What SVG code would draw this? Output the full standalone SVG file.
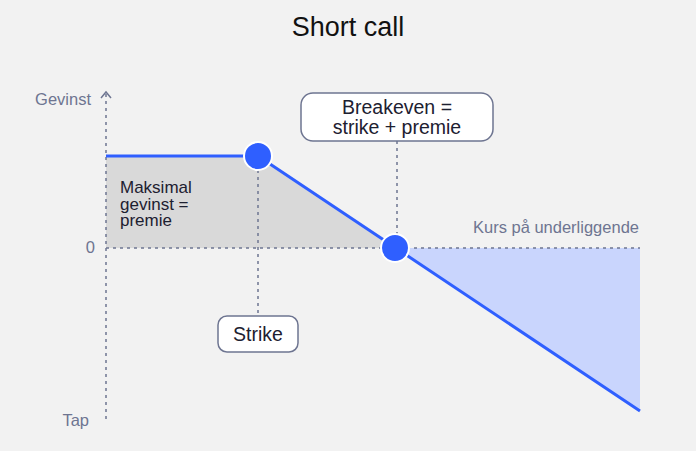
<svg xmlns="http://www.w3.org/2000/svg" width="696" height="451" viewBox="0 0 696 451">
<style>
text{font-family:"Liberation Sans","Inter",sans-serif}
.ax{fill:#6e7591;font-size:16.5px}
.lbl{fill:#1d2030;font-size:19.5px;text-anchor:middle}
.dash{stroke:#6e7591;stroke-width:1.5;stroke-dasharray:3 4;fill:none}
.box{fill:#fff;stroke:#6e7591;stroke-width:1.5}
.dot{fill:#2f5fff;stroke:#fff;stroke-width:2}
</style>
<rect width="696" height="451" fill="#f2f2f2"/>
<text x="348" y="36" font-size="27" fill="#111" text-anchor="middle">Short call</text>
<g id="areas">
<polygon points="106,156 258,156 395,248 106,248" fill="#d9d9d9"/>
<polygon points="395,248 640,248 640,411" fill="#c9d5fd"/>
</g>
<g id="connectors">
<line class="dash" x1="106" y1="94" x2="106" y2="420"/>
<polyline points="101,98 106,92 111,98" fill="none" stroke="#6e7591" stroke-width="1.5"/>
<line class="dash" x1="106" y1="248" x2="640" y2="248"/>
<line class="dash" x1="258" y1="170" x2="258" y2="316"/>
<line class="dash" x1="397" y1="141" x2="397" y2="236"/>
<polyline points="106,156 258,156 640,411" fill="none" stroke="#2f5fff" stroke-width="3"/>
</g>
<text class="ax" x="91" y="105" text-anchor="end">Gevinst</text>
<text class="ax" x="95" y="253" text-anchor="end">0</text>
<text class="ax" x="89" y="426" text-anchor="end">Tap</text>
<text class="ax" x="639" y="233" text-anchor="end" font-size="17.5">Kurs på underliggende</text>
<g id="maks"><text x="120" y="193" font-size="17" fill="#1d2030"><tspan x="120">Maksimal</tspan><tspan x="120" dy="16.5">gevinst =</tspan><tspan x="120" dy="16.5">premie</tspan></text></g>
<g id="strike-dot"><circle class="dot" cx="258" cy="156" r="14"/></g>
<g id="breakeven-dot"><circle class="dot" cx="395" cy="248" r="14"/></g>
<g id="strike"><rect class="box" x="218" y="316" width="80" height="36" rx="9"/><text class="lbl" x="258" y="341">Strike</text></g>
<g id="breakeven"><rect class="box" x="301" y="93" width="192" height="48" rx="12"/><text class="lbl" x="397" y="114">Breakeven =</text><text class="lbl" x="397" y="134">strike + premie</text></g>
</svg>
